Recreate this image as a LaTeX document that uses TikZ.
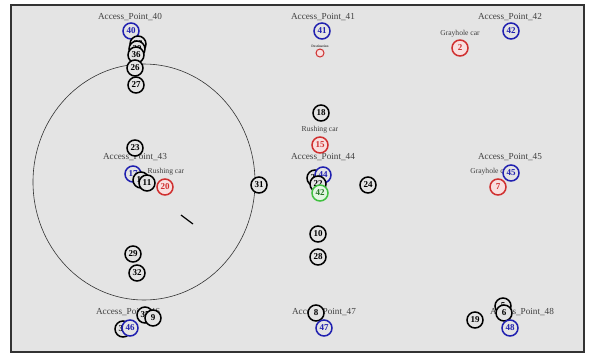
\documentclass[tikz,border=0pt]{standalone}
\usepackage{xcolor}
\usepackage{fontspec}
\setmainfont{Liberation Serif}
\definecolor{bggray}{HTML}{E4E4E4}
\definecolor{apblue}{HTML}{2020B0}
\definecolor{carred}{HTML}{D03030}
\definecolor{cargreen}{HTML}{40C040}
\definecolor{labgray}{HTML}{404040}

\begin{document}
\begin{tikzpicture}[
    x=1pt, y=-1pt,
    car/.style={circle, draw=black, line width=1.5pt, fill=bggray, minimum size=16pt, inner sep=0pt, font=\small\bfseries},
    apnode/.style={car, draw=apblue, text=apblue, fill=bggray},
    redcar/.style={car, draw=carred, text=carred, fill=carred!15},
    greencar/.style={car, draw=cargreen, text=cargreen!60!black, fill=cargreen!15},
    aplabel/.style={font=\fontsize{9.2}{10}\selectfont, text=labgray, inner sep=0pt},
    carlabel/.style={font=\fontsize{7.6}{9}\selectfont, text=labgray, inner sep=0pt},
]
\useasboundingbox (0,0) rectangle (592,354);
% Frame
\draw[line width=2pt, black!80, fill=bggray] (11,5) rectangle (584,352);

% Range of Access_Point_43
\draw[black!80, line width=0.6pt] (144,182) ellipse (111 and 118);
\coordinate (m1) at (181,215);
\coordinate (m2) at (193,224);
\draw[line width=1.2pt] (m1) -- (m2);

% Access point labels
\node[aplabel] (t40) at (130,17) {Access\_Point\_40};
\node[aplabel] (t41) at (323,17) {Access\_Point\_41};
\node[aplabel] (t42) at (510,17) {Access\_Point\_42};
\node[aplabel] (t43) at (135,157) {Access\_Point\_43};
\node[aplabel] (t44) at (323,157) {Access\_Point\_44};
\node[aplabel] (t45) at (510,157) {Access\_Point\_45};
\node[aplabel] (t46) at (128,312) {Access\_Point\_46};
\node[aplabel] (t47) at (324,312) {Access\_Point\_47};
\node[aplabel] (t48) at (522,312) {Access\_Point\_48};

% Left column
\node[apnode] (ap40) at (131,31) {40};
\node[car] (v38) at (138,44) {38};
\node[car] (v39) at (137,49) {39};
\node[car] (v36) at (136,55) {36};
\node[car] (v26) at (135,68) {26};
\node[car] (v27) at (136,85) {27};

\node[car] (v23) at (135,148) {23};
\node[apnode] (ap43) at (133,174) {17};
\node[car] (v12) at (141,180) {12};
\node[car] (v11) at (147,183) {11};
\node[carlabel] (rush1) at (166,172) {Rushing car};
\node[redcar] (v20) at (165,187) {20};
\node[car] (v31) at (259,185) {31};

\node[car] (v29) at (133,254) {29};
\node[car] (v32) at (137,273) {32};

\node[car] (v35) at (145,315) {35};
\node[car] (v9) at (153,318) {9};
\node[car] (v30) at (123,329) {30};
\node[apnode] (ap46) at (130,328) {46};

% Middle column
\node[apnode] (ap41) at (322,31) {41};
\node[font=\fontsize{3.5}{4}\selectfont\bfseries, text=labgray, inner sep=0pt] (dlab) at (320,46) {Destination};
\node[redcar, minimum size=8pt, line width=1pt, font=\tiny] (dest) at (320,53) {};

\node[car] (v18) at (321,113) {18};
\node[carlabel] (rush2) at (320,130) {Rushing car};
\node[redcar] (v15) at (320,145) {15};
\node[car] (v21) at (315,178) {21};
\node[apnode] (ap44) at (323,175) {44};
\node[car] (v22) at (318,184) {22};
\node[greencar] (v42) at (320,193) {42};
\node[car] (v24) at (368,185) {24};

\node[car] (v10) at (318,234) {10};
\node[car] (v28) at (318,257) {28};

\node[car] (v8) at (316,313) {8};
\node[apnode] (ap47) at (324,328) {47};

% Right column
\node[apnode] (ap42) at (511,31) {42};
\node[carlabel] (gray1) at (460,34) {Grayhole car};
\node[redcar] (v2) at (460,48) {2};

\node[carlabel] (gray2) at (490,172) {Grayhole car};
\node[apnode] (ap45) at (511,173) {45};
\node[redcar] (v7) at (498,187) {7};

\node[car] (v5) at (503,306) {5};
\node[car] (v6) at (504,313) {6};
\node[car] (v19) at (475,320) {19};
\node[apnode] (ap48) at (510,328) {48};

\end{tikzpicture}
\end{document}
